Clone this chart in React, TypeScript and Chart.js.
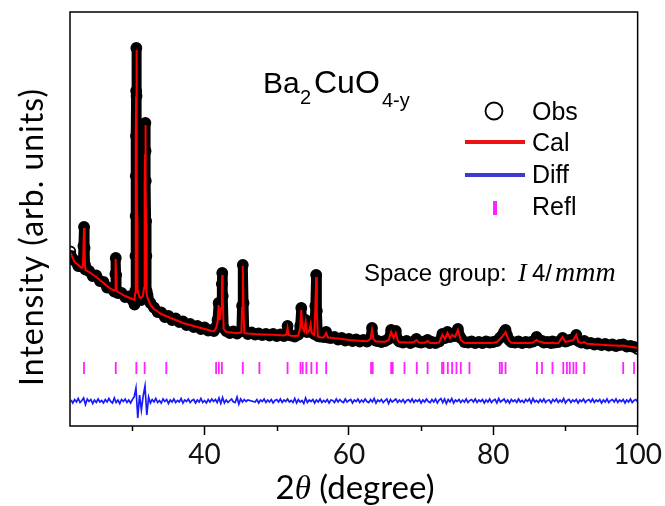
import React, { useEffect, useRef } from 'react';
import { Chart, registerables } from 'chart.js';

Chart.register(...registerables);

// 2θ positions (degree) shared by observed and calculated profiles
const twoTheta = [
  21.4, 21.5, 22.0, 22.5, 23.0,
  23.15, 23.22, 23.3, 23.38, 23.45,
  23.5, 24.0, 24.5, 25.0, 25.5, 26.0, 26.5, 27.0, 27.5,
  27.6, 27.65, 27.7, 27.75, 27.8,
  28.0, 28.5, 29.0, 29.5, 30.0, 30.3,
  30.4, 30.43, 30.46, 30.48, 30.5, 30.52, 30.55, 30.58, 30.6, 30.62, 30.65, 30.68, 30.71,
  30.8, 31.0, 31.2, 31.45,
  31.62, 31.66, 31.7, 31.74, 31.77, 31.8, 31.83, 31.86, 31.9, 31.94, 31.98,
  32.1, 32.5, 33.0, 33.5, 34.0, 34.5, 35.0, 35.5, 36.0, 36.5, 37.0, 37.5, 38.0, 38.5, 39.0, 39.5, 40.0, 40.5, 41.0, 41.3,
  41.6, 41.8, 41.95, 42.1, 42.3, 42.4, 42.45, 42.52, 42.65,
  43.0, 43.5, 44.0, 44.5,
  45.1, 45.2, 45.3, 45.4, 45.5,
  46.0, 46.5, 47.0, 47.5, 48.0, 48.5, 49.0, 49.5, 50.0, 50.5, 51.0, 51.35, 51.5, 51.65, 52.0, 52.5, 53.0,
  53.25, 53.4, 53.55, 53.8, 54.0, 54.2, 54.5, 54.7, 54.85, 55.2, 55.35, 55.46, 55.56, 55.7,
  56.0, 56.5, 56.85, 57.1, 57.5, 58.0, 58.5, 59.0, 59.5, 60.0,
  60.5, 61.0, 61.5, 62.0, 62.5, 63.0, 63.2, 63.4, 63.7, 64.0,
  64.5, 65.0, 65.5, 65.85, 66.2, 66.5, 66.8, 67.0, 67.5, 68.0,
  68.5, 69.0, 69.35, 69.7, 70.0, 70.5, 70.9, 71.2, 71.5, 72.0,
  72.5, 72.95, 73.3, 73.65, 74.0, 74.3, 74.7, 75.1, 75.5, 76.0,
  76.5, 77.0, 77.5, 78.0, 78.5, 79.0, 79.5, 80.0, 80.5, 80.9,
  81.2, 81.5, 81.7, 81.9, 82.2, 82.5, 83.0, 83.5, 84.0, 84.5,
  85.0, 85.5, 86.0, 86.3, 86.75, 87.0, 87.5, 88.0, 88.2, 88.5,
  89.0, 89.6, 90.0, 90.2, 90.6, 91.1, 91.5, 91.8, 92.2, 92.6,
  93.0, 93.5, 94.0, 94.5, 95.0, 95.5, 96.0, 96.5, 97.0, 97.5,
  98.0, 98.5, 99.0, 99.5, 100.0,
];

// observed intensity (arb. units)
const obsI = [
  1745, 1700, 1655, 1600, 1595,
  1620, 1800, 1990, 1780, 1610,
  1565, 1550, 1500, 1505, 1450, 1440, 1385, 1380, 1345,
  1370, 1520, 1680, 1510, 1360,
  1330, 1330, 1290, 1295, 1260, 1215,
  1350, 1700, 2100, 2500, 2900, 3350, 3780, 3300, 2950, 2550, 2150, 1700, 1400,
  1320, 1290, 1260, 1300,
  1400, 1750, 2100, 2450, 2750, 3030, 2750, 2450, 2050, 1700, 1350,
  1310, 1230, 1185, 1140, 1135, 1090, 1100, 1060, 1075, 1040, 1045, 1010, 1020, 990, 1000, 970, 985, 955, 960, 950,
  990, 1060, 1230, 1080, 1200, 1420, 1530, 1300, 980,
  950, 930, 945, 925,
  950, 1200, 1610, 1230, 950,
  920, 935, 915, 925, 910, 920, 905, 920, 900, 915, 900, 920, 1000, 915, 905, 895, 915,
  1000, 1180, 1000, 960, 1060, 940, 960, 1030, 940, 920, 1200, 1510, 1150, 900,
  895, 890, 940, 885, 880, 890, 865, 880, 855, 870,
  850, 865, 845, 860, 845, 880, 980, 880, 855, 850,
  840, 850, 870, 960, 890, 950, 860, 845, 835, 850,
  830, 845, 870, 840, 835, 845, 860, 830, 840, 830,
  845, 920, 880, 940, 890, 920, 900, 970, 880, 840,
  835, 845, 830, 840, 830, 845, 835, 840, 850, 880,
  900, 940, 960, 910, 860, 840, 835, 845, 830, 840,
  835, 845, 890, 860, 850, 835, 840, 830, 845, 835,
  840, 880, 845, 850, 860, 870, 910, 850, 835, 850,
  825, 830, 815, 825, 810, 820, 805, 815, 800, 810,
  815, 795, 800, 790, 770,
];

// calculated intensity (arb. units)
const calI = [
  1730, 1720, 1640, 1610, 1580,
  1600, 1760, 1980, 1760, 1590,
  1560, 1540, 1515, 1490, 1460, 1430, 1400, 1370, 1355,
  1360, 1500, 1670, 1500, 1350,
  1340, 1320, 1300, 1285, 1270, 1262,
  1330, 1650, 2050, 2450, 2880, 3300, 3760, 3280, 2900, 2500, 2100, 1650, 1380,
  1330, 1290, 1280, 1300,
  1380, 1720, 2080, 2430, 2720, 3010, 2720, 2420, 2020, 1660, 1330,
  1280, 1210, 1170, 1145, 1120, 1105, 1090, 1075, 1060, 1045, 1030, 1020, 1010, 1000, 990, 980, 970, 960, 950, 948,
  980, 1040, 1210, 1060, 1180, 1400, 1510, 1280, 970,
  940, 937, 933, 930,
  935, 1180, 1600, 1200, 930,
  925, 923, 920, 918, 916, 915, 913, 912, 910, 908, 906, 915, 980, 910, 903, 900, 905,
  980, 1160, 990, 950, 1040, 930, 950, 1020, 930, 910, 1180, 1490, 1130, 895,
  888, 886, 930, 884, 882, 878, 874, 870, 865, 860,
  858, 855, 852, 850, 848, 870, 960, 870, 846, 845,
  843, 842, 860, 940, 880, 930, 850, 838, 837, 836,
  835, 840, 860, 834, 832, 833, 850, 832, 831, 830,
  835, 910, 870, 930, 880, 910, 890, 960, 860, 832,
  830, 830, 830, 830, 830, 830, 830, 832, 840, 870,
  890, 920, 940, 900, 850, 832, 830, 830, 830, 830,
  830, 835, 860, 845, 840, 830, 830, 829, 835, 828,
  830, 890, 840, 845, 850, 860, 910, 840, 830, 840,
  822, 820, 817, 815, 812, 810, 808, 806, 804, 802,
  805, 797, 793, 788, 780,
];

// difference curve (Obs - Cal) on a 0.25° grid starting at 21.5°, plotted with an offset
const DIFF_START = 21.5;
const DIFF_STEP = 0.25;
const DIFF_OFFSET = 250;
const diffI: (number | null)[] = [
  10, -20, 15, -10, 25, -15, 5, 30, -35, 20, -5, 15, -25, 10, -15, 20, -10, 5, -20, 15,
  -10, 25, -5, -20, 30, -15, 10, -25, 15, -5, 20, -15, 10, -20, 15, 40, 130, -170, 60, -90,
  50, 150, -140, 40, -20, 15, -10, 25, -15, 5, -20, 20, -5, 15, -25, 10, -10, 20, -15, 5,
  -10, 25, -20, 10, -5, 20, -15, 5, 15, -20, 10, -10, 25, -15, 5, -20, 15, -10, 20, -5,
  15, -15, 30, -25, 35, -20, 10, -15, 5, 20, -10, -15, 40, -30, 20, -10, 15, -5, 10, null,
  null, null, -10, 15, -20, 10, -5, 20, -15, 10, -10, 15, -20, 5, 15, -10, 20, -15, 10, -5,
  20, -10, 5, -15, 25, -20, 15, -10, 5, -25, 30, -15, 10, -5, 15, -20, 10, -10, 20, -15,
  5, -10, 15, -20, 10, 5, -15, 20, -10, 15, -5, -15, 20, -10, 5, 15, -20, 10, -5, 20,
  -15, 10, -10, 20, -5, -15, 15, -10, 25, -20, 10, -5, 15, -15, 5, 20, -25, 15, -10, 5,
  20, -15, 10, -10, 15, -20, 5, 15, -10, 20, -15, 10, -5, 15, -20, 10, -10, 20, -5, -15,
  15, -10, 20, -20, 10, 25, -15, 20, -25, 15, -10, 25, -20, 10, -5, 15, -15, 10, -10, 20,
  -15, 5, 15, -10, 20, -15, 10, -5, 15, -20, 10, -10, 20, -15, 5, 15, -20, 25, -10, 5,
  20, -15, 10, -20, 15, -5, 10, -15, 20, -10, 5, -15, 15, -5, 20, -20, 25, -10, 5, -15,
  15, -10, 20, -15, 5, 10, -20, 15, -5, 20, -15, 10, -10, 25, -20, 5, 15, -15, 10, -5,
  15, -20, 10, -5, 20, -15, 5, 15, -10, 20, -15, 10, -5, 15, -20, 10, -10, 20, -15, 5,
  15, -10, 20, -15, 10, -5, 15, -20, 10, -10, 20, -15, 5, 15, -10,
];

// Bragg reflection positions (2θ, degree)
const reflPos = [
  23.3, 27.7, 30.55, 31.7, 34.7, 41.6, 41.98, 42.4, 45.3, 47.6,
  51.5, 53.3, 53.6, 54.1, 54.8, 55.55, 56.85, 63.07, 63.3, 65.85,
  66.07, 67.7, 69.4, 70.9, 72.9, 73.1, 73.7, 74.3, 74.9, 75.5,
  76.7, 80.9, 81.2, 81.7, 86.05, 86.75, 88.2, 89.7, 90.2, 90.6,
  91.1, 91.5, 92.6, 98.0, 99.5,
];
const REFL_LEVEL = 580;

const xLabelTicks = [40, 60, 80, 100];
const xMinorTicks = [30, 50, 70, 90];

const SANS = '"Liberation Sans", Arial, sans-serif';
const LABEL_FONT = 'Lato, "Open Sans", sans-serif';
const SERIF = '"Liberation Serif", "Times New Roman", serif';

const decorPlugin = {
  id: 'decor',
  afterDraw(chart: any) {
    const { ctx, chartArea: a } = chart;
    const xs = chart.scales.x;
    ctx.save();
    // frame
    ctx.strokeStyle = '#000';
    ctx.lineWidth = 1.5;
    ctx.strokeRect(a.left, a.top, a.right - a.left, a.bottom - a.top);
    // minor ticks
    xMinorTicks.forEach((v) => {
      const px = Math.round(xs.getPixelForValue(v)) + 0.5;
      ctx.beginPath();
      ctx.moveTo(px, a.bottom);
      ctx.lineTo(px, a.bottom + 5);
      ctx.stroke();
    });

    ctx.fillStyle = '#000';
    ctx.textBaseline = 'alphabetic';
    ctx.textAlign = 'left';

    // y title
    ctx.save();
    ctx.translate(43, 237);
    ctx.rotate(-Math.PI / 2);
    ctx.font = `32px ${LABEL_FONT}`;
    (ctx as any).letterSpacing = '1px';
    ctx.textAlign = 'center';
    ctx.fillText('Intensity (arb. units)', 0, 0);
    (ctx as any).letterSpacing = '0px';
    ctx.restore();

    // x title: 2θ (degree)
    const f1 = `33px ${LABEL_FONT}`;
    const f2 = `italic 33px ${SERIF}`;
    ctx.font = f1;
    const w1 = ctx.measureText('2').width;
    const w3 = ctx.measureText(' (degree)').width;
    ctx.font = f2;
    const w2 = ctx.measureText('θ').width;
    let tx = 355 - (w1 + w2 + w3) / 2;
    const ty = 499;
    ctx.font = f1;
    ctx.fillText('2', tx, ty);
    tx += w1;
    ctx.font = f2;
    ctx.fillText('θ', tx, ty);
    tx += w2;
    ctx.font = f1;
    ctx.fillText(' (degree)', tx, ty);

    // formula
    ctx.font = `30px ${SANS}`;
    ctx.fillText('Ba', 263, 93);
    ctx.font = `20px ${SANS}`;
    ctx.fillText('2', 300, 104);
    ctx.font = `32px ${SANS}`;
    ctx.fillText('CuO', 314, 93);
    ctx.font = `20px ${SANS}`;
    ctx.fillText('4-y', 382, 107);

    // space group
    ctx.font = `24px ${SANS}`;
    ctx.fillText('Space group:', 364, 281);
    ctx.font = `italic 26px ${SERIF}`;
    ctx.fillText('I', 518, 281);
    ctx.font = `24px ${SANS}`;
    ctx.fillText('4/', 532, 281);
    ctx.font = `italic 28px ${SERIF}`;
    ctx.fillText('mmm', 555, 281);

    // legend
    ctx.lineWidth = 1.8;
    ctx.strokeStyle = '#000';
    ctx.beginPath();
    ctx.arc(494, 111, 8.5, 0, Math.PI * 2);
    ctx.stroke();
    ctx.fillStyle = '#ee1111';
    ctx.fillRect(465, 140, 60, 4);
    ctx.fillStyle = '#3a3ad2';
    ctx.fillRect(465, 173, 60, 4);
    ctx.fillStyle = '#ff22ff';
    ctx.fillRect(493, 201, 4, 14);
    ctx.fillStyle = '#000';
    ctx.font = `25px ${SANS}`;
    ctx.fillText('Obs', 532, 120);
    ctx.fillText('Cal', 532, 151);
    ctx.fillText('Diff', 532, 183);
    ctx.fillText('Refl', 532, 215);
    ctx.restore();
  },
};

export default function App() {
  const ref = useRef<HTMLCanvasElement>(null);

  useEffect(() => {
    const canvas = ref.current;
    if (!canvas) return;
    const obsData = twoTheta.map((x, i) => ({ x, y: obsI[i] }));
    const calData = twoTheta.map((x, i) => ({ x, y: calI[i] }));
    const diffData = diffI.map((d, i) => ({
      x: DIFF_START + i * DIFF_STEP,
      y: d === null ? null : DIFF_OFFSET + d,
    }));
    const reflData = reflPos.map((x) => ({ x, y: REFL_LEVEL }));

    const chart = new Chart(canvas, {
      type: 'scatter',
      data: {
        datasets: [
          {
            label: 'Obs',
            data: obsData,
            showLine: true,
            borderColor: '#000',
            borderWidth: 10,
            borderJoinStyle: 'round',
            pointRadius: 5,
            pointBorderWidth: 1.8,
            pointBorderColor: '#000',
            pointBackgroundColor: 'rgba(0,0,0,0)',
            order: 3,
          },
          {
            label: 'Cal',
            data: calData,
            showLine: true,
            borderColor: '#ff0000',
            borderWidth: 2,
            pointRadius: 0,
            order: 0,
          },
          {
            label: 'Diff',
            data: diffData as any,
            showLine: true,
            spanGaps: true,
            borderColor: '#1a1aff',
            borderWidth: 1.7,
            pointRadius: 0,
            order: 1,
          },
          {
            label: 'Refl',
            data: reflData,
            showLine: false,
            pointStyle: 'line',
            rotation: 90,
            pointRadius: 6,
            pointBorderWidth: 1.8,
            pointBorderColor: '#ff22ff',
            order: 2,
          },
        ] as any,
      },
      options: {
        responsive: false,
        devicePixelRatio: 1,
        animation: false,
        events: [],
        layout: { padding: { left: 70, right: 27, top: 12, bottom: 0 } },
        plugins: { legend: { display: false }, tooltip: { enabled: false } },
        scales: {
          x: {
            type: 'linear',
            min: 21.36,
            max: 100,
            border: { display: false },
            grid: {
              display: true,
              drawOnChartArea: false,
              drawTicks: true,
              tickLength: 9,
              tickWidth: 1.5,
              tickColor: (c: any) =>
                c.tick && xLabelTicks.includes(c.tick.value) ? '#000' : 'rgba(0,0,0,0)',
            },
            ticks: {
              stepSize: 10,
              includeBounds: false,
              autoSkip: false,
              maxRotation: 0,
              padding: 3,
              color: '#111',
              font: { family: LABEL_FONT, size: 28 },
              callback: (v: any) => (xLabelTicks.includes(Number(v)) ? String(v) : ''),
            },
            afterFit: (s: any) => {
              s.height = 80;
            },
          },
          y: { display: false, min: 0, max: 4140 },
        },
      } as any,
      plugins: [decorPlugin],
    });
    return () => chart.destroy();
  }, []);

  return (
    <div style={{ position: 'fixed', left: 0, top: 0, width: 665, height: 506, background: '#fff' }}>
      <canvas ref={ref} width={665} height={506} style={{ display: 'block', width: 665, height: 506 }} />
    </div>
  );
}
